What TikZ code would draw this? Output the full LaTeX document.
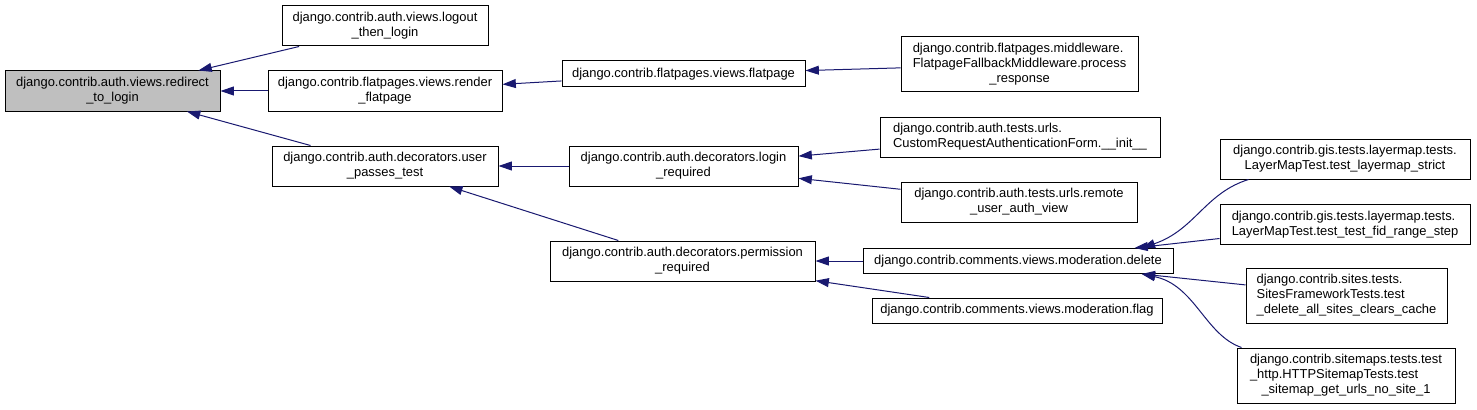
\documentclass[tikz,border=0pt]{standalone}
\usepackage{fontspec}
\setmainfont{Liberation Sans}
\usepackage{xcolor}
\usetikzlibrary{arrows.meta}
\definecolor{edgeblue}{HTML}{191970}
\definecolor{nodegray}{HTML}{BFBFBF}
\newcommand{\lbl}[2]{\begin{tabular}{@{}l@{}}#1\\\multicolumn{1}{@{}c@{}}{#2}\end{tabular}}
\tikzset{fn/.style={draw=black, fill=white, rectangle, line width=0.75pt, inner sep=0pt, font=\fontsize{9.7}{11.25}\selectfont}, sz/.style 2 args={minimum width=#1*0.75pt, minimum height=#2*0.75pt}, call/.style={draw=edgeblue, line width=0.75pt, -{Triangle[length=10pt, width=6.7pt]}}}

\begin{document}
\begin{tikzpicture}[x=0.75pt, y=-0.75pt]
    \useasboundingbox (0,0) rectangle (1477,410);
    \node [fn, sz={215}{40}, fill=nodegray] (redirect) at (112.5,91) {\lbl{django.contrib.auth.views.redirect}{\_to\_login}};
    \node [fn, sz={206}{40}] (logout) at (385,26) {\lbl{django.contrib.auth.views.logout}{\_then\_login}};
    \node [fn, sz={234}{40}] (render) at (385,91) {\lbl{django.contrib.flatpages.views.render}{\_flatpage}};
    \node [fn, sz={226}{40}] (user) at (385,166) {\lbl{django.contrib.auth.decorators.user}{\_passes\_test}};
    \node [fn, sz={243}{26}] (flatpage) at (683.5,74) {django.contrib.flatpages.views.flatpage};
    \node [fn, sz={229}{40}] (login) at (683.5,166) {\lbl{django.contrib.auth.decorators.login}{\_required}};
    \node [fn, sz={265}{40}] (permission) at (682.5,261) {\lbl{django.contrib.auth.decorators.permission}{\_required}};
    \node [fn, sz={237}{55}] (middleware) at (1019.5,64.5) {\lbl{django.contrib.flatpages.middleware.\\FlatpageFallbackMiddleware.process}{\_response}};
    \node [fn, sz={280}{40}] (custom) at (1020,137) {\lbl{django.contrib.auth.tests.urls.}{CustomRequestAuthenticationForm.\_\_init\_\_}};
    \node [fn, sz={236}{40}] (remote) at (1019,202) {\lbl{django.contrib.auth.tests.urls.remote}{\_user\_auth\_view}};
    \node [fn, sz={310}{25}] (delete) at (1018,261) {django.contrib.comments.views.moderation.delete};
    \node [fn, sz={290}{25}] (flag) at (1017,310.5) {django.contrib.comments.views.moderation.flag};
    \node [fn, sz={250}{40}] (strict) at (1345,159) {\lbl{django.contrib.gis.tests.layermap.tests.}{LayerMapTest.test\_layermap\_strict}};
    \node [fn, sz={250}{40}] (fid) at (1345,224.5) {\lbl{django.contrib.gis.tests.layermap.tests.}{LayerMapTest.test\_test\_fid\_range\_step}};
    \node [fn, sz={201}{55}] (sites) at (1346.5,295.5) {\lbl{django.contrib.sites.tests.\\SitesFrameworkTests.test}{\_delete\_all\_sites\_clears\_cache}};
    \node [fn, sz={218}{55}] (sitemaps) at (1346,375.5) {\lbl{django.contrib.sitemaps.tests.test\\\_http.HTTPSitemapTests.test}{\_sitemap\_get\_urls\_no\_site\_1}};
    \draw [call] (logout) -- (redirect);
    \draw [call] (render) -- (redirect);
    \draw [call] (user) -- (redirect);
    \draw [call] (flatpage) -- (render);
    \draw [call] (middleware) -- (flatpage);
    \draw [call] (login) -- (user);
    \draw [call] (permission) -- (user);
    \draw [call] (custom) -- (login);
    \draw [call] (remote) -- (login);
    \draw [call] (delete) -- (permission);
    \draw [call] (flag) -- (permission);
    \draw [call] (strict.192) .. controls (1205,193) and (1195,230) .. (delete.6);
    \draw [call] (fid) -- (delete);
    \draw [call] (sites) -- (delete);
    \draw [call] (sitemaps.165) .. controls (1205,335) and (1195,285) .. (delete.-6);
\end{tikzpicture}
\end{document}
